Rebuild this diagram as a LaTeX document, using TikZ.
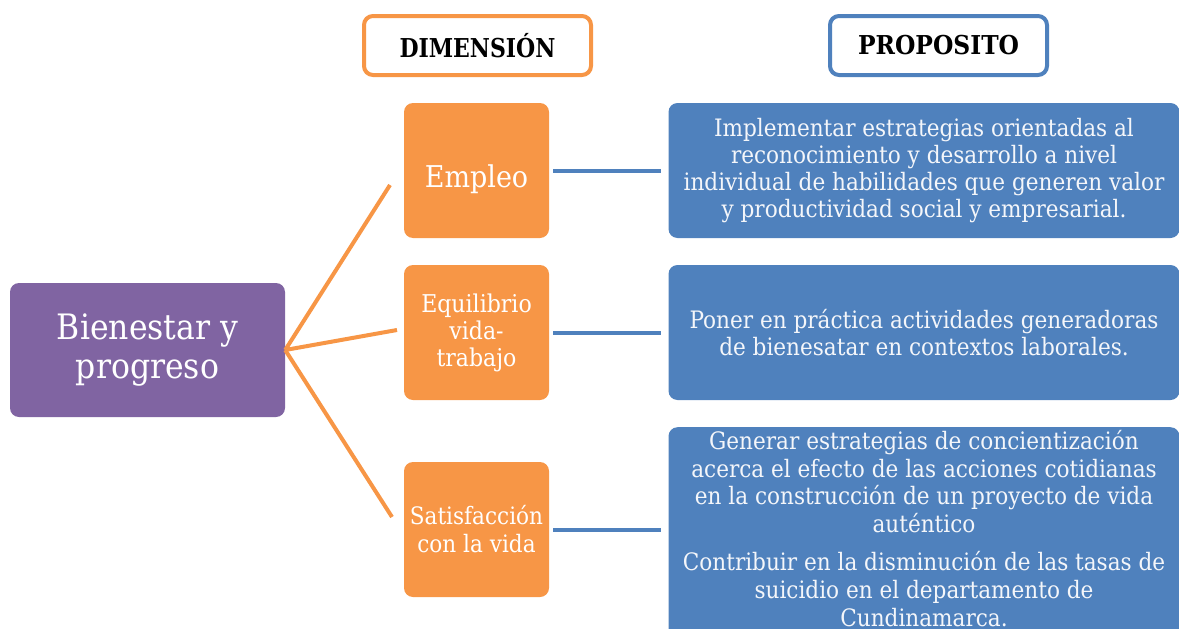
\documentclass[tikz,border=0pt]{standalone}
\usepackage{fontspec}
\setmainfont{DejaVu Serif Condensed}
\definecolor{orng}{HTML}{F79646}
\definecolor{blu}{HTML}{4F81BD}
\definecolor{purp}{HTML}{8064A2}
\definecolor{offw}{HTML}{F4F6FA}
\tikzset{
  headbox/.style={draw, line width=4pt, rounded corners=9pt, fill=white, align=center,
    font=\bfseries\fontsize{26}{30}\selectfont, text=black, inner sep=0pt},
  dimbox/.style={fill=orng, rounded corners=9pt, minimum width=145pt, minimum height=135pt,
    align=center, text=white, inner sep=2pt},
  purbox/.style={fill=blu, rounded corners=9pt, minimum width=511pt, minimum height=135pt,
    align=center, text=offw, inner sep=0pt, font=\fontsize{24}{27.3}\selectfont},
  oline/.style={draw=orng, line width=4pt},
  bline/.style={draw=blu, line width=4pt, shorten <=4pt, shorten >=7pt},
}
\begin{document}
\begin{tikzpicture}[x=1pt,y=-1pt]
\useasboundingbox (0,0) rectangle (1179,629);
\begin{scope}
\clip (0,0) rectangle (1179,629);
% headers
\node[headbox, draw=orng, minimum width=227pt, minimum height=59pt] (hdim) at (477.5,45.5) {\raisebox{-2pt}{\scalebox{0.94}[1]{DIMENSIÓN}}};
\node[headbox, draw=blu, minimum width=217pt, minimum height=59pt] (hprop) at (938.5,45.5) {\raisebox{-2pt}{PROPOSITO}};
% main
\node[fill=purp, rounded corners=9pt, minimum width=275pt, minimum height=134pt, align=center,
  text=white, font=\fontsize{35}{39}\selectfont] (bien) at (147.5,350) {Bienestar y\\progreso};
% dimensions
\node[dimbox, font=\fontsize{30}{34}\selectfont] (emp) at (476.5,170.5) {\raisebox{-17pt}[0pt][0pt]{Empleo}};
\node[dimbox, font=\fontsize{24.5}{27}\selectfont] (equ) at (476.5,332.5) {Equilibrio\\vida-\\trabajo};
\node[dimbox, font=\fontsize{24}{28}\selectfont] (sat) at (476.5,529.5) {Satisfacción\\con la vida};
% purposes
\node[purbox] (p1) at (924,170.5) {Implementar estrategias orientadas al\\reconocimiento y desarrollo a nivel\\individual de habilidades que generen valor\\y productividad social y empresarial.};
\node[purbox] (p2) at (924,332.5) {Poner en práctica actividades generadoras\\de bienesatar en contextos laborales.};
\node[purbox, minimum height=212pt, anchor=north] (p3) at (924,427) {};
\node[anchor=north, align=center, text=offw, inner sep=0pt, font=\fontsize{24}{27.6}\selectfont] (p3t) at (924,430)
 {Generar estrategias de concientización\\acerca el efecto de las acciones cotidianas\\en la construcción de un proyecto de vida\\auténtico\\[11pt]Contribuir en la disminución de las tasas de\\suicidio en el departamento de\\Cundinamarca.};
% connectors
\coordinate (c1) at (390,185);
\coordinate (c2) at (397,330);
\coordinate (c3) at (392,517);
\draw[oline] (bien.east) -- (c1);
\draw[oline] (bien.east) -- (c2);
\draw[oline] (bien.east) -- (c3);
\draw[bline] (emp.east) -- (p1.west);
\draw[bline] (equ.east) -- (p2.west);
\draw[bline] (sat.east) -- (sat.east -| p3.west);
\end{scope}
\end{tikzpicture}
\end{document}
